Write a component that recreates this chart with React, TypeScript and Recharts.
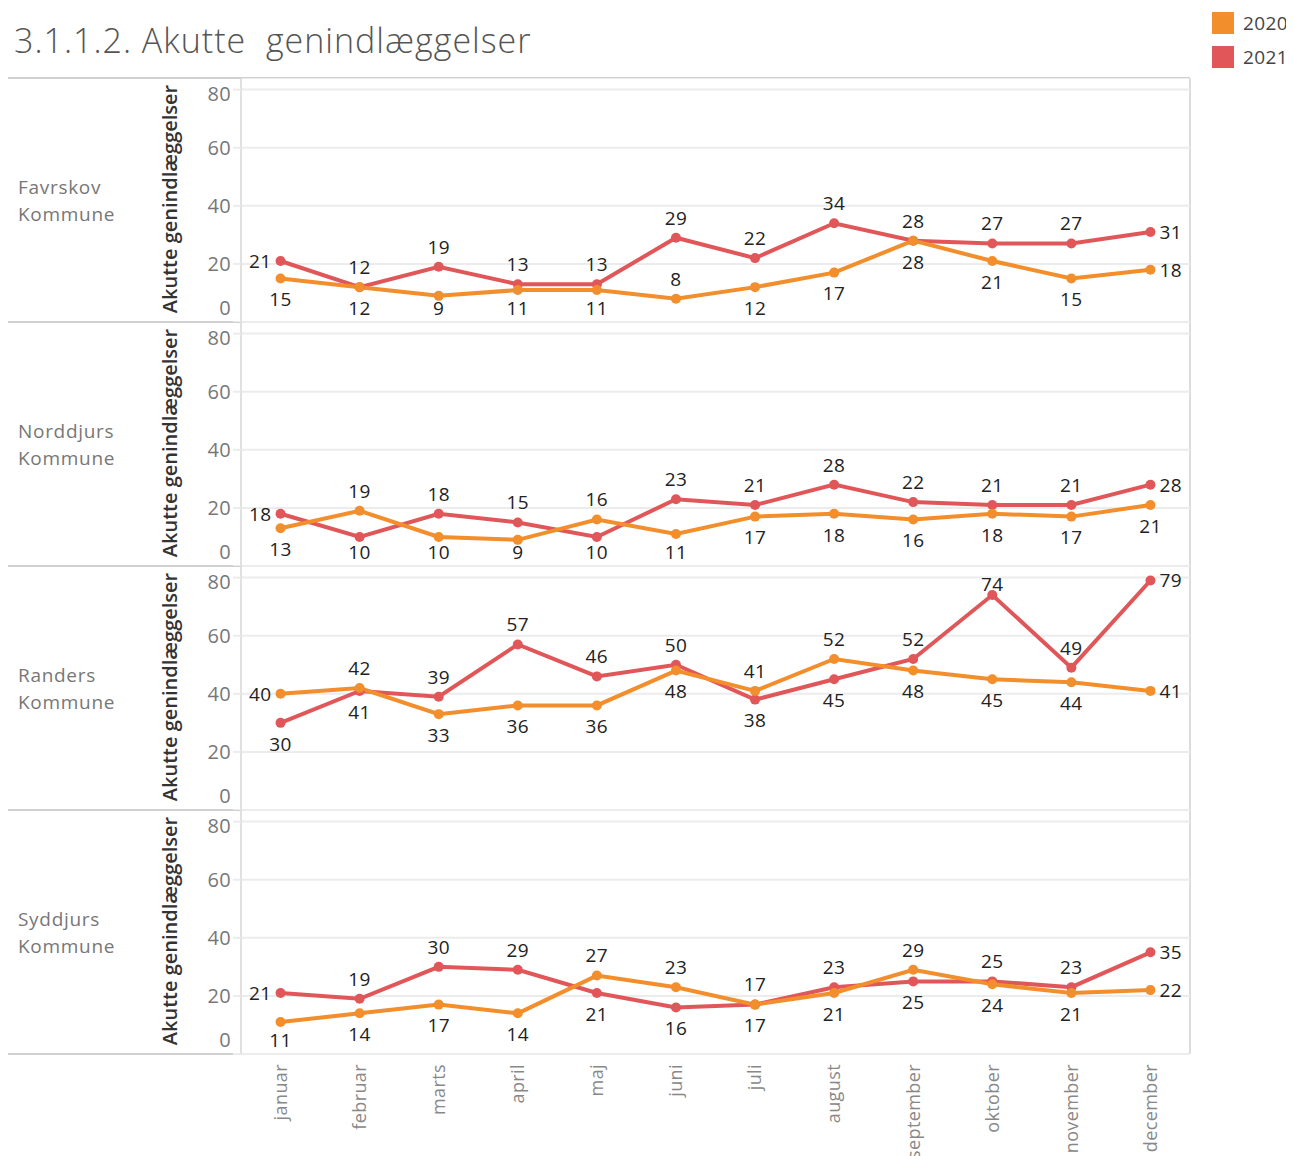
import React from "react";
import { LineChart, Line, XAxis, YAxis, CartesianGrid, LabelList } from "recharts";

const months = ["januar", "februar", "marts", "april", "maj", "juni", "juli", "august", "september", "oktober", "november", "december"];
const regions = ["Favrskov Kommune", "Norddjurs Kommune", "Randers Kommune", "Syddjurs Kommune"];
const yTicks = [0, 20, 40, 60, 80];

const favrskov2020 = [15, 12, 9, 11, 11, 8, 12, 17, 28, 21, 15, 18];
const favrskov2021 = [21, 12, 19, 13, 13, 29, 22, 34, 28, 27, 27, 31];
const norddjurs2020 = [13, 19, 10, 9, 16, 11, 17, 18, 16, 18, 17, 21];
const norddjurs2021 = [18, 10, 18, 15, 10, 23, 21, 28, 22, 21, 21, 28];
const randers2020 = [40, 42, 33, 36, 36, 48, 41, 52, 48, 45, 44, 41];
const randers2021 = [30, 41, 39, 57, 46, 50, 38, 45, 52, 74, 49, 79];
const syddjurs2020 = [11, 14, 17, 14, 27, 23, 17, 21, 29, 24, 21, 22];
const syddjurs2021 = [21, 19, 30, 29, 21, 16, 17, 23, 25, 25, 23, 35];

const series2020 = [favrskov2020, norddjurs2020, randers2020, syddjurs2020];
const series2021 = [favrskov2021, norddjurs2021, randers2021, syddjurs2021];

const ORANGE = "#F28E2B";
const RED = "#E15759";
const FONT = "'Open Sans', sans-serif";
const PANEL_TOP = 78;
const PANEL_H = 244;
const OFF = 8; // body margin

function makeLabel(own: number[], other: number[], isRed: boolean) {
  return (props: any) => {
    const x = props.x ?? props.viewBox?.x;
    const y = props.y ?? props.viewBox?.y;
    const i = props.index;
    const v = own[i];
    const o = other[i];
    let upper = v > o || (v === o && isRed);
    const lastIdx = i === own.length - 1;
    // keep labels inside the pane, flip up when there is no room below
    const below = Math.min(y + 21, PANEL_H - 14);
    if (!upper && below - y < 11) upper = true;
    let tx = x;
    let cy = upper ? Math.max(y - 20, 18) : below;
    let anchor: "start" | "middle" | "end" = "middle";
    if (i === 0 && upper) {
      tx = x - 9;
      cy = y;
      anchor = "end";
    } else if (lastIdx && (upper || Math.abs(v - o) >= 10)) {
      tx = x + 9;
      cy = y;
      anchor = "start";
    }
    return (
      <text x={tx} y={cy} dy="0.36em" textAnchor={anchor} fill="#222" fontSize={19} fontFamily={FONT} letterSpacing={0.4}>
        {v}
      </text>
    );
  };
}

const YTick = (props: any) => {
  const { x, y, payload } = props;
  const v = payload.value;
  const dy = v === 0 ? -14 : v === 80 ? 4 : 0;
  return (
    <text x={x} y={y + dy} dy="0.35em" textAnchor="end" fill="#777" fontSize={20} fontFamily={FONT} letterSpacing={0.3}>
      {v}
    </text>
  );
};

const MonthTick = (props: any) => {
  const { x, y, payload } = props;
  return (
    <text
      x={x}
      y={y}
      dy="0.35em"
      textAnchor="end"
      transform={`rotate(-90, ${x}, ${y})`}
      fill="#888"
      fontSize={18}
      letterSpacing={0.4}
      fontFamily={FONT}
    >
      {months[payload.value]}
    </text>
  );
};

function Panel({ idx }: { idx: number }) {
  const last = idx === regions.length - 1;
  const a = series2020[idx];
  const b = series2021[idx];
  const data = months.map((m, i) => ({ i, month: m, y2020: a[i], y2021: b[i] }));
  const axisH = 103;
  return (
    <div style={{ position: "absolute", left: 0, top: PANEL_TOP + PANEL_H * idx - OFF }}>
      <LineChart
        width={1190}
        height={PANEL_H + (last ? axisH : 0)}
        data={data}
        margin={{ top: 0, right: 8, bottom: 0, left: 143 }}
      >
        <CartesianGrid horizontal vertical={false} stroke="#ececec" strokeWidth={2} />
        <XAxis
          dataKey="i"
          type="number"
          domain={[-0.5, 11.5]}
          ticks={months.map((_, i) => i)}
          hide={!last}
          height={axisH}
          axisLine={false}
          tickLine={false}
          tickMargin={4}
          tick={<MonthTick />}
          interval={0}
        />
        <YAxis
          type="number"
          domain={[0, 84]}
          ticks={yTicks}
          interval={0}
          width={90}
          axisLine={{ stroke: "#d6d6d6", strokeWidth: 1.5 }}
          tickLine={{ stroke: "#ececec", strokeWidth: 2 }}
          tickSize={8}
          tickMargin={2}
          tick={<YTick />}
        />
        <Line
          dataKey="y2021"
          stroke={RED}
          strokeWidth={4}
          dot={{ r: 5, fill: RED, stroke: RED, strokeWidth: 0 }}
          activeDot={false}
          isAnimationActive={false}
        >
          <LabelList dataKey="y2021" content={makeLabel(b, a, true)} />
        </Line>
        <Line
          dataKey="y2020"
          stroke={ORANGE}
          strokeWidth={4}
          dot={{ r: 5, fill: ORANGE, stroke: ORANGE, strokeWidth: 0 }}
          activeDot={false}
          isAnimationActive={false}
        >
          <LabelList dataKey="y2020" content={makeLabel(a, b, false)} />
        </Line>
      </LineChart>
    </div>
  );
}

export default function App() {
  const seps = [0, 1, 2, 3, 4].map((k) => PANEL_TOP + PANEL_H * k - OFF);
  return (
    <div style={{ position: "relative", width: 1286, height: 1148, overflow: "hidden", fontFamily: FONT }}>
      <svg width={1286} height={1148} style={{ position: "absolute", left: 0, top: 0 }}>
        <text
          x={14 - OFF}
          y={53 - OFF}
          fontSize={34}
          fontWeight={300}
          fill="#555"
          fontFamily={FONT}
          letterSpacing={1}
          style={{ whiteSpace: "pre" }}
        >
          3.1.1.2. Akutte  genindlæggelser
        </text>
        {[
          { c: ORANGE, t: "2020", y: 12 },
          { c: RED, t: "2021", y: 46 },
        ].map((l) => (
          <g key={l.t}>
            <rect x={1212 - OFF} y={l.y - OFF} width={22} height={22} fill={l.c} />
            <text x={1243 - OFF} y={l.y + 18 - OFF} fontSize={19} fill="#444" fontFamily={FONT} letterSpacing={0.4}>
              {l.t}
            </text>
          </g>
        ))}
        {seps.map((y, k) => (
          <line key={k} x1={0} x2={1182} y1={y} y2={y} stroke="#d0d0d0" strokeWidth={2} />
        ))}
        <line x1={1182} x2={1182} y1={seps[0]} y2={seps[4]} stroke="#d0d0d0" strokeWidth={1.5} />
        {regions.map((r, k) => {
          const [n1, n2] = r.split(" ");
          const cy = PANEL_TOP + PANEL_H * k + PANEL_H / 2 - OFF;
          return (
            <g key={r}>
              <text x={18 - OFF} y={cy - 6} fontSize={19} fill="#777" fontFamily={FONT} letterSpacing={0.7}>
                {n1}
              </text>
              <text x={18 - OFF} y={cy + 21} fontSize={19} fill="#777" fontFamily={FONT} letterSpacing={0.7}>
                {n2}
              </text>
              <text
                x={170 - OFF}
                y={cy - 1}
                dy="0.35em"
                textAnchor="middle"
                transform={`rotate(-90, ${170 - OFF}, ${cy - 1})`}
                fontSize={20}
                fontWeight={600}
                fill="#333"
                fontFamily={FONT}
              >
                Akutte genindlæggelser
              </text>
            </g>
          );
        })}
      </svg>
      {regions.map((_, k) => (
        <Panel key={k} idx={k} />
      ))}
    </div>
  );
}
